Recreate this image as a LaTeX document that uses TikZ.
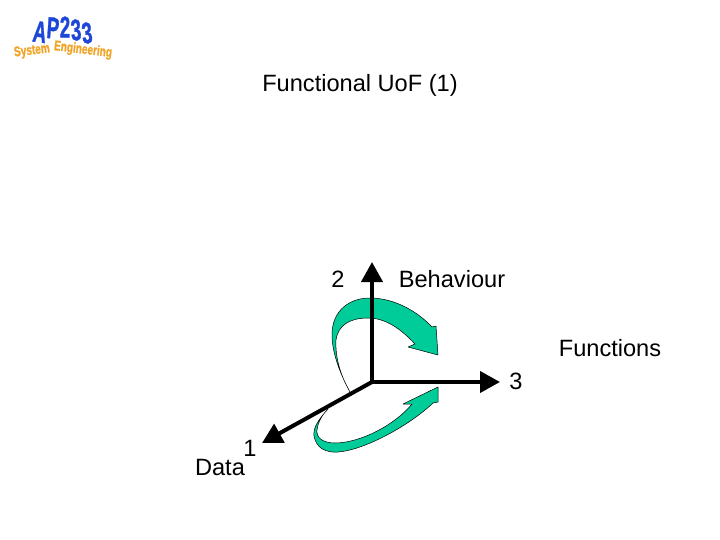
\documentclass[tikz,border=0pt]{standalone}
\usepackage{fontspec}
\setmainfont{Liberation Sans}
\newfontfamily\logoheavy[FakeBold=1.5]{Liberation Sans Bold}
\usetikzlibrary{arrows.meta}
\definecolor{swoosh}{RGB}{0,204,153}
\definecolor{logoblue}{RGB}{30,70,215}
\definecolor{logoorange}{RGB}{240,165,40}
\newcommand{\apletter}[1]{\scalebox{0.62}[1]{\fontsize{30}{30}\logoheavy\selectfont #1}}
\newcommand{\seword}[2]{\scalebox{#1}[1]{\fontsize{14}{14}\logoheavy\selectfont #2}}
\tikzset{
  x=1pt,y=-1pt,
  lab/.style={font=\fontsize{23.6}{26}\selectfont,inner sep=0pt,text=black},
  axisline/.style={line width=4pt,-{Triangle[length=20pt,width=21pt]}},
  swooshshape/.style={fill=swoosh,draw=black,line width=0.5pt,line join=round},
  ap/.style={text=logoblue,inner sep=0pt},
  se/.style={text=logoorange,inner sep=0pt}
}
\begin{document}
\begin{tikzpicture}
\useasboundingbox (0,0) rectangle (720,540);
\node[lab] (title) at (360,85) {Functional Uo\kern0ptF (1)};
\node[lab] (two) at (338,279) {2};
\node[lab] (beh) at (452,279) {Behaviour};
\node[lab] (fun) at (610,348) {Functions};
\node[lab] (three) at (516,381) {3};
\node[lab] (one) at (250,448) {1};
\node[lab] (data) at (220,467) {Data};
\coordinate (o) at (372,382);
\coordinate (up) at (372,262);
\coordinate (right) at (500,382);
\coordinate (down) at (262,443);
\draw[swooshshape] (350,392) .. controls (338,370) and (332,350) .. (332,335)
  .. controls (332,310) and (350,298) .. (370,298)
  .. controls (395,298) and (418,312) .. (432,327)
  -- (436,326) -- (438,355) -- (408,347) -- (415,344)
  .. controls (400,328) and (385,318) .. (368,318)
  .. controls (350,318) and (338,325) .. (336,340)
  .. controls (335,360) and (342,378) .. (350,392) -- cycle;
\draw[swooshshape] (328,409) .. controls (318,420) and (313,428) .. (314,436)
  .. controls (316,448) and (326,453) .. (338,452)
  .. controls (365,450) and (410,425) .. (433,403)
  -- (438,402) -- (438,387) -- (403,404) -- (412,404)
  .. controls (395,425) and (360,443) .. (335,443)
  .. controls (322,443) and (316,437) .. (317,430)
  .. controls (318,422) and (322,415) .. (328,409) -- cycle;
\draw[axisline] (o) -- (up);
\draw[axisline] (o) -- (right);
\draw[axisline] (o) -- (down);
\node[ap,rotate=-8] (a1) at (40,32) {\apletter{A}};
\node[ap,rotate=-4] (a2) at (53,28) {\apletter{P}};
\node[ap,rotate=0] (a3) at (65,27) {\apletter{2}};
\node[ap,rotate=4] (a4) at (76,30) {\apletter{3}};
\node[ap,rotate=6] (a5) at (87,33) {\apletter{3}};
\node[se,rotate=7] (se1) at (32,51) {\seword{0.72}{System}};
\node[se,rotate=-7] (se2) at (83,50) {\seword{0.72}{Engineering}};
\end{tikzpicture}
\end{document}
